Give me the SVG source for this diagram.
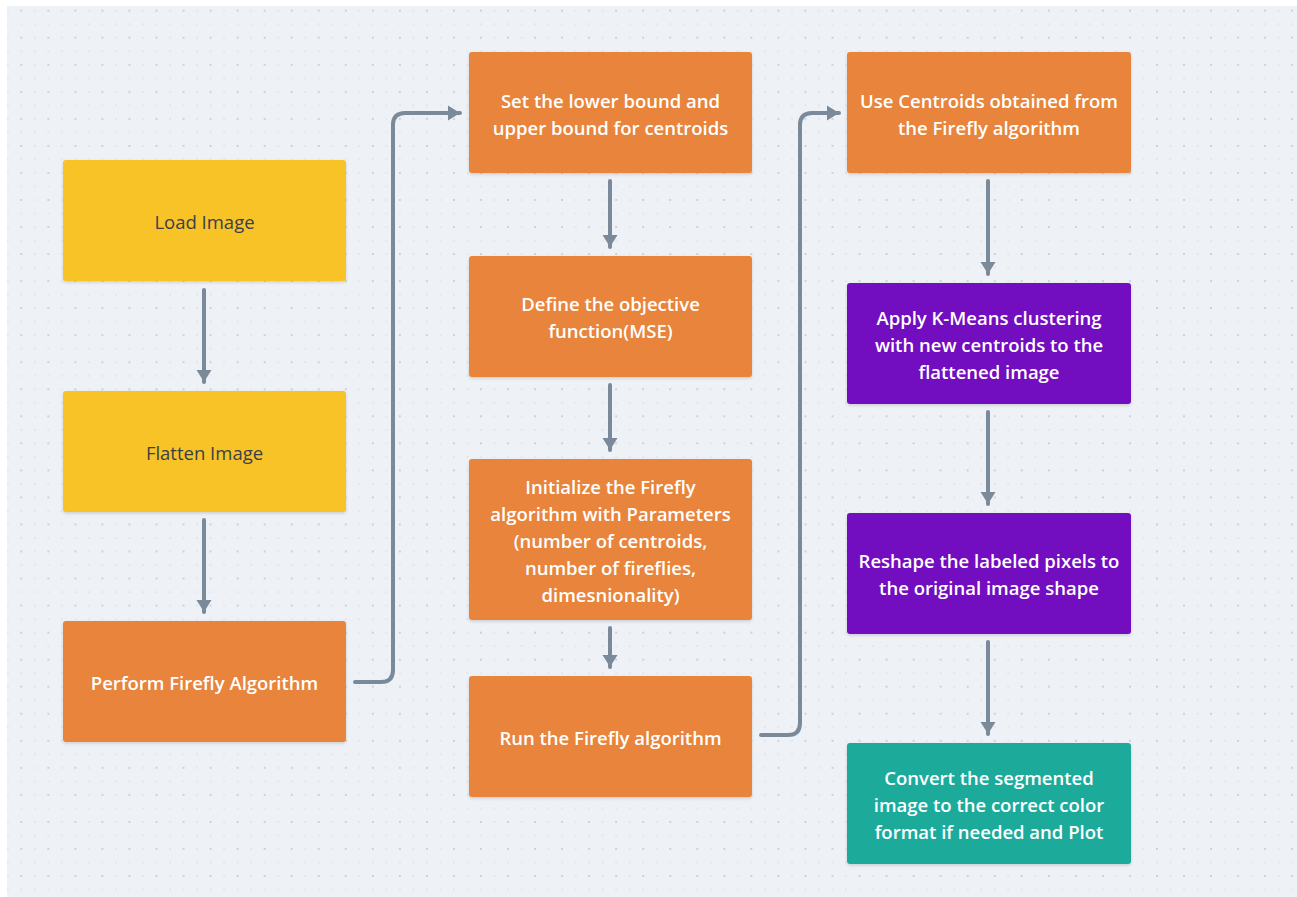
<svg xmlns="http://www.w3.org/2000/svg" width="1297" height="897" viewBox="0 0 1297 897">
  <style>
    .node rect { stroke: none; filter: url(#shadow); }
    .yellow rect { fill: #f7c325; }
    .orange rect { fill: #e8843a; }
    .purple rect { fill: #7210c0; }
    .teal rect { fill: #1bab9b; }
    .node text { font-family: "Open Sans", "Noto Sans", "Liberation Sans", sans-serif; font-size: 18.5px; text-anchor: middle; dominant-baseline: central; }
    .yellow text { fill: #3b3f4a; font-weight: 400; }
    .orange text, .purple text, .teal text { fill: #ffffff; font-weight: 600; }
    .edge { fill: none; stroke: #7b8a9a; stroke-width: 4; stroke-linecap: round; stroke-linejoin: round; }
  </style>
  <defs>
    <pattern id="dots" x="21.3" y="10.7" width="27.04" height="27.04" patternUnits="userSpaceOnUse">
      <rect x="-1" y="-1" width="2" height="2" fill="#c9d0df"/>
      <rect x="26.04" y="-1" width="2" height="2" fill="#c9d0df"/>
      <rect x="-1" y="26.04" width="2" height="2" fill="#c9d0df"/>
      <rect x="26.04" y="26.04" width="2" height="2" fill="#c9d0df"/>
      <rect x="12.9" y="-0.6" width="1.3" height="1.3" fill="#d3d8e2"/>
      <rect x="12.9" y="26.4" width="1.3" height="1.3" fill="#d3d8e2"/>
      <rect x="-0.6" y="12.9" width="1.3" height="1.3" fill="#d3d8e2"/>
      <rect x="26.4" y="12.9" width="1.3" height="1.3" fill="#d3d8e2"/>
      <rect x="12.9" y="12.9" width="1.3" height="1.3" fill="#d3d8e2"/>
    </pattern>
    <filter id="shadow" x="-10%" y="-10%" width="120%" height="130%">
      <feDropShadow dx="0" dy="1.5" stdDeviation="1.5" flood-color="#000000" flood-opacity="0.15"/>
    </filter>
    <marker id="arrow" markerWidth="13" markerHeight="16" refX="12" refY="8" orient="auto" markerUnits="userSpaceOnUse">
      <path d="M0,0.5 L12,8 L0,15.5 Z" fill="#7b8a9a"/>
    </marker>
  </defs>

  <!-- canvas -->
  <rect x="0" y="0" width="1297" height="897" fill="#ffffff"/>
  <rect x="7" y="6" width="1290" height="891" fill="#eef2f6"/>
  <rect x="7" y="6" width="1290" height="891" fill="url(#dots)"/>

  <!-- connectors -->
  <g id="connectors">
    <path class="edge" marker-end="url(#arrow)" d="M204,290 L204,382"/>
    <path class="edge" marker-end="url(#arrow)" d="M204,520 L204,612"/>
    <path class="edge" marker-end="url(#arrow)" d="M355,682 L381,682 Q393,682 393,670 L393,125 Q393,113 405,113 L460,113"/>
    <path class="edge" marker-end="url(#arrow)" d="M610,181 L610,247"/>
    <path class="edge" marker-end="url(#arrow)" d="M610,385 L610,450"/>
    <path class="edge" marker-end="url(#arrow)" d="M610,628 L610,667"/>
    <path class="edge" marker-end="url(#arrow)" d="M761,735 L788,735 Q800,735 800,723 L800,125 Q800,113 812,113 L839,113"/>
    <path class="edge" marker-end="url(#arrow)" d="M988,181 L988,274"/>
    <path class="edge" marker-end="url(#arrow)" d="M988,412 L988,504"/>
    <path class="edge" marker-end="url(#arrow)" d="M988,642 L988,734"/>
  </g>

  <!-- column 1 -->
  <g id="load-image" class="node yellow">
    <rect x="63" y="160" width="283" height="121" rx="3"/>
    <text x="204.5" y="221">Load Image</text>
  </g>
  <g id="flatten-image" class="node yellow">
    <rect x="63" y="391" width="283" height="121" rx="3"/>
    <text x="204.5" y="452">Flatten Image</text>
  </g>
  <g id="perform-firefly" class="node orange">
    <rect x="63" y="621" width="283" height="121" rx="3"/>
    <text x="204.5" y="682">Perform Firefly Algorithm</text>
  </g>

  <!-- column 2 -->
  <g id="set-bounds" class="node orange">
    <rect x="469" y="52" width="283" height="121" rx="3"/>
    <text x="610.5" y="100">Set the lower bound and</text>
    <text x="610.5" y="127">upper bound for centroids</text>
  </g>
  <g id="define-objective" class="node orange">
    <rect x="469" y="256" width="283" height="121" rx="3"/>
    <text x="610.5" y="303">Define the objective</text>
    <text x="610.5" y="330">function(MSE)</text>
  </g>
  <g id="init-firefly" class="node orange">
    <rect x="469" y="459" width="283" height="161" rx="3"/>
    <text x="610.5" y="486">Initialize the Firefly</text>
    <text x="610.5" y="513">algorithm with Parameters</text>
    <text x="610.5" y="540">(number of centroids,</text>
    <text x="610.5" y="567">number of fireflies,</text>
    <text x="610.5" y="594">dimesnionality)</text>
  </g>
  <g id="run-firefly" class="node orange">
    <rect x="469" y="676" width="283" height="121" rx="3"/>
    <text x="610.5" y="737">Run the Firefly algorithm</text>
  </g>

  <!-- column 3 -->
  <g id="use-centroids" class="node orange">
    <rect x="847" y="52" width="284" height="121" rx="3"/>
    <text x="989" y="100">Use Centroids obtained from</text>
    <text x="989" y="127">the Firefly algorithm</text>
  </g>
  <g id="apply-kmeans" class="node purple">
    <rect x="847" y="283" width="284" height="121" rx="3"/>
    <text x="989" y="317">Apply K-Means clustering</text>
    <text x="989" y="344">with new centroids to the</text>
    <text x="989" y="371">flattened image</text>
  </g>
  <g id="reshape-pixels" class="node purple">
    <rect x="847" y="513" width="284" height="121" rx="3"/>
    <text x="989" y="560">Reshape the labeled pixels to</text>
    <text x="989" y="587">the original image shape</text>
  </g>
  <g id="convert-plot" class="node teal">
    <rect x="847" y="743" width="284" height="121" rx="3"/>
    <text x="989" y="777">Convert the segmented</text>
    <text x="989" y="804">image to the correct color</text>
    <text x="989" y="831">format if needed and Plot</text>
  </g>
</svg>
